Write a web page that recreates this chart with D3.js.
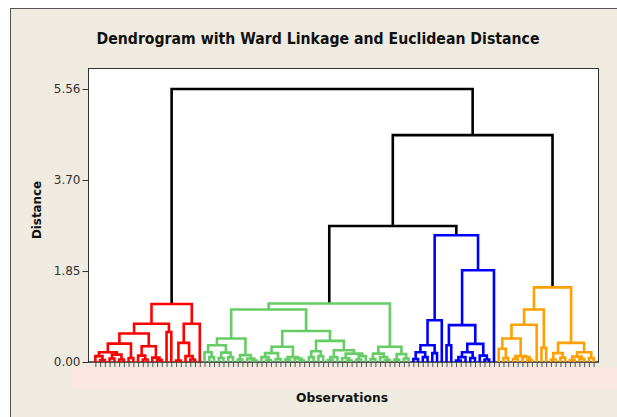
<!DOCTYPE html>
<html>
<head>
<meta charset="utf-8">
<script src="https://cdn.jsdelivr.net/npm/d3@7"></script>
<style>
body { margin: 0; padding: 0; background: #fff; }
svg { display: block; }
text { font-family: "DejaVu Sans", sans-serif; }
</style>
</head>
<body>
<script>
// every merge is [distance, left, right]; a 1 is one observation
const redTree = [1.18,
  [0.78,
    [0.58,
      [0.375,
        [0.2, [0.12, 1, [0.04, 1, 1]], [0.15, [0.07, 1, 1], [0.05, 1, 1]]],
        [0.08, 1, 1]],
      [0.32, [0.13, 1, [0.05, 1, 1]], [0.09, 1, [0.04, 1, 1]]]],
    [0.61, 1, 1]],
  [0.78,
    [0.39, [0.03, 1, 1], [0.12, 1, [0.05, 1, 1]]],
    1]]

const greenTree = [1.19,
  [1.07,
    [0.48,
      [0.34, [0.2, 1, [0.1, 1, 1]], [0.19, [0.08, 1, 1], [0.1, 1, 1]]],
      [0.14, [0.05, 1, 1], [0.07, 1, [0.03, 1, 1]]]],
    [0.63,
      [0.31,
        [0.18, [0.1, 1, [0.04, 1, 1]], [0.06, 1, 1]],
        [0.1, [0.05, 1, 1], [0.07, 1, [0.03, 1, 1]]]],
      [0.43,
        [0.22, [0.1, 1, 1], [0.12, 1, 1]],
        [0.24,
          [0.1, [0.04, 1, 1], 1],
          [0.17, [0.08, 1, [0.03, 1, 1]], [0.12, [0.05, 1, 1], 1]]]]]],
  [0.31,
    [0.17, [0.06, 1, 1], [0.1, 1, [0.04, 1, 1]]],
    [0.16, [0.05, 1, 1], [0.07, 1, 1]]]]

const blueTree = [2.58,
  [0.85,
    [0.34, [0.2, [0.06, 1, 1], [0.1, 1, 1]], [0.18, 1, 1]],
    1],
  [1.87,
    [0.75,
      [0.34, 1, 1],
      [0.37, [0.2, [0.1, [0.03, 1, 1], 1], [0.08, 1, 1]], [0.13, 1, [0.05, 1, 1]]]],
    1]]

const orangeTree = [1.52,
  [1.07,
    [0.76,
      [0.48, [0.27, 1, [0.08, 1, 1]], [0.12, [0.06, 1, 1], [0.1, 1, [0.04, 1, 1]]]],
      1],
    [0.29, 1, 1]],
  [0.39,
    [0.18, [0.05, 1, 1], [0.09, 1, 1]],
    [0.2, [0.11, [0.04, 1, 1], [0.06, 1, 1]], [0.08, 1, 1]]]]

// heights of the three black merges joining the clusters
const topHeights = [5.56, 4.62, 2.77]
const clusterColors = ["#ff0000", "#66cc66", "#0000ff", "#ffa000"]

const tickValues = [0, 1.853, 3.707, 5.56]
const tickLabels = ["0.00", "1.85", "3.70", "5.56"]

const width = 617
const height = 417

const treeData = [topHeights[0], redTree,
  [topHeights[1], [topHeights[2], greenTree, blueTree], orangeTree]]

const colorOf = new Map([
  [redTree, clusterColors[0]],
  [greenTree, clusterColors[1]],
  [blueTree, clusterColors[2]],
  [orangeTree, clusterColors[3]]
])

const root = d3.hierarchy(treeData, d => Array.isArray(d) ? [d[1], d[2]] : null)
d3.cluster().size([1, 1]).separation(() => 1)(root)

const dist = d => Array.isArray(d.data) ? d.data[0] : 0
const nodeColor = d => {
  const hit = d.ancestors().find(a => colorOf.has(a.data))
  return hit ? colorOf.get(hit.data) : "#000"
}

const x = d3.scaleLinear().domain([0, 1]).range([93, 596])
const y = d3.scaleLinear().domain([0, 5.56]).range([362, 89])

const svg = d3.select("body").append("svg")
  .attr("width", width)
  .attr("height", height)

// frame
svg.append("rect")
  .attr("x", 10.5).attr("y", 8.5)
  .attr("width", 700).attr("height", 500)
  .attr("fill", "#efebe0")
  .attr("stroke", "#555")

svg.append("text")
  .attr("x", 318).attr("y", 39)
  .attr("dy", "0.35em")
  .attr("text-anchor", "middle")
  .attr("font-family", "DejaVu Sans Condensed, DejaVu Sans")
  .attr("font-weight", "bold")
  .attr("font-size", 15)
  .attr("textLength", 443)
  .attr("lengthAdjust", "spacingAndGlyphs")
  .attr("fill", "#111")
  .text("Dendrogram with Ward Linkage and Euclidean Distance")

// pink strip under the axis
svg.append("rect")
  .attr("x", 72).attr("y", 367)
  .attr("width", 545).attr("height", 22)
  .attr("fill", "#fbe6e3")

svg.append("rect")
  .attr("x", 88.5).attr("y", 68.5)
  .attr("width", 510).attr("height", 293.5)
  .attr("fill", "#fff")
  .attr("stroke", "#333")

const yAxis = svg.append("g")
  .attr("transform", "translate(88.5,0)")
  .call(d3.axisLeft(y).tickValues(tickValues).tickFormat((d, i) => tickLabels[i]).tickSize(6))
yAxis.select(".domain").remove()
yAxis.selectAll(".tick line").attr("stroke", "#333")
yAxis.selectAll(".tick text")
  .attr("font-family", "DejaVu Sans")
  .attr("font-size", 12)
  .attr("fill", "#333")
  .attr("x", -8)

const leaves = root.leaves()
const xAxis = svg.append("g")
  .attr("transform", "translate(0,362)")
  .call(d3.axisBottom(x).tickValues(leaves.map(d => d.x)).tickFormat("").tickSize(5))
xAxis.select(".domain").remove()
xAxis.selectAll(".tick line").attr("stroke", "#555")

svg.append("line")
  .attr("x1", 88).attr("x2", 599)
  .attr("y1", 362).attr("y2", 362)
  .attr("stroke", "#222")

svg.append("g")
  .attr("fill", "none")
  .attr("stroke-width", 2.6)
  .selectAll("path")
  .data(root.descendants().filter(d => d.children))
  .join("path")
  .attr("stroke", nodeColor)
  .attr("d", d => {
    const [a, b] = d.children
    return `M${x(a.x)},${y(dist(a))}V${y(dist(d))}H${x(b.x)}V${y(dist(b))}`
  })

svg.append("text")
  .attr("transform", "translate(36,210) rotate(-90)")
  .attr("dy", "0.35em")
  .attr("text-anchor", "middle")
  .attr("font-family", "DejaVu Sans Condensed, DejaVu Sans")
  .attr("font-weight", "bold")
  .attr("font-size", 13)
  .attr("textLength", 58)
  .attr("lengthAdjust", "spacingAndGlyphs")
  .attr("fill", "#111")
  .text("Distance")

svg.append("text")
  .attr("x", 342).attr("y", 397)
  .attr("dy", "0.35em")
  .attr("text-anchor", "middle")
  .attr("font-family", "DejaVu Sans Condensed, DejaVu Sans")
  .attr("font-weight", "bold")
  .attr("font-size", 13)
  .attr("textLength", 92)
  .attr("lengthAdjust", "spacingAndGlyphs")
  .attr("fill", "#111")
  .text("Observations")
</script>
</body>
</html>
